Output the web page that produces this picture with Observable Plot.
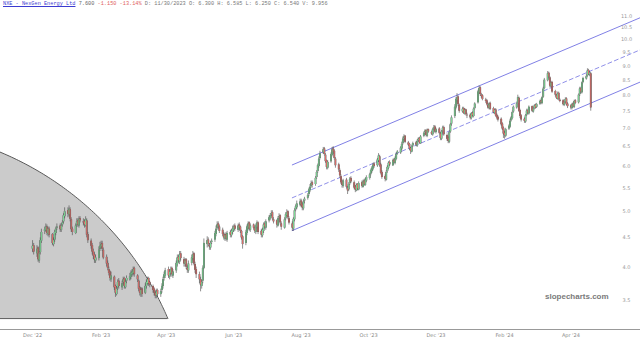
<!DOCTYPE html>
<html><head><meta charset="utf-8">
<script src="https://cdn.jsdelivr.net/npm/d3@7"></script>
<script src="https://cdn.jsdelivr.net/npm/@observablehq/plot@0.6"></script>
<style>
body{margin:0;background:#fff;}
#wrap{position:relative;width:640px;height:343px;overflow:hidden;background:#fff;}
#hdr{position:absolute;left:3px;top:0px;font:5.25px "Liberation Mono",monospace;line-height:9px;white-space:pre;color:#777;}
#hdr .tk{color:#3b3bd0;text-decoration:underline;}
#hdr .px{color:#666;}
#hdr .ch{color:#e06060;}
#wm{position:absolute;left:545px;top:292px;font:bold 8px "Liberation Sans",Arial,sans-serif;color:#7a7a7a;}
</style></head>
<body><div id="wrap"><div id="chart"></div>
<div id="hdr"><span class="tk">NXE - NexGen Energy Ltd</span> <span class="px">7.600</span> <span class="ch">-1.150 -13.14%</span> D: 11/30/2023 O: 6.300 H: 6.585 L: 6.250 C: 6.540 V: 9.956</div>
<div id="wm">slopecharts.com</div></div>
<script>
// Daily candles, one per weekday from 2022-12-01
const opens = [
4.30,4.36,4.22,4.32,4.10,4.24,4.44,4.62,4.64,4.70,4.56,4.66,4.56,4.38,4.46,4.58,4.68,4.72,4.64,4.74,4.80,4.90,
5.02,4.94,5.04,4.84,4.66,4.58,4.74,4.82,4.72,4.86,4.80,4.80,4.72,4.82,4.56,4.44,4.36,4.26,4.20,4.10,4.14,4.30,
4.34,4.40,4.28,4.16,4.06,3.96,3.92,3.80,3.84,3.70,3.58,3.68,3.78,3.68,3.76,3.82,3.68,3.78,3.80,3.84,
3.88,3.90,3.98,3.86,3.78,3.68,3.58,3.66,3.60,3.70,3.74,3.82,3.76,3.70,3.66,3.60,3.56,3.64,3.58,3.64,3.70,3.82,3.86,
3.96,3.84,3.90,3.98,3.86,3.94,4.04,4.16,4.08,4.22,4.12,4.04,4.12,3.98,3.94,4.06,4.14,4.22,4.04,3.96,
3.88,3.80,3.70,3.78,3.98,4.38,4.46,4.36,4.32,4.42,4.46,4.56,4.68,4.76,4.70,4.64,4.56,4.48,4.56,4.46,4.60,4.54,4.60,
4.64,4.72,4.64,4.74,4.70,4.62,4.52,4.40,4.58,4.68,4.78,4.64,4.74,4.68,4.60,4.70,4.78,4.62,4.54,4.62,4.76,4.68,
4.82,4.86,4.94,4.98,4.84,4.82,4.72,4.88,4.92,4.76,4.68,4.86,4.92,5.00,4.86,4.76,4.66,4.84,5.04,5.08,5.14,
5.22,5.14,5.06,5.22,5.28,5.36,5.44,5.54,5.62,5.58,5.74,5.88,6.00,6.20,6.34,6.44,6.28,6.14,5.96,6.12,6.28,6.44,6.38,
6.18,6.04,5.90,5.76,5.64,5.54,5.68,5.50,5.46,5.60,5.72,5.62,5.52,5.44,5.58,5.46,5.62,5.52,5.66,5.56,5.66,
5.72,5.82,5.88,5.94,6.06,6.02,6.14,6.24,6.04,5.86,5.76,5.68,5.88,5.96,6.10,6.02,6.16,6.08,6.18,6.32,6.34,6.44,
6.58,6.72,6.78,6.60,6.56,6.46,6.36,6.52,6.60,6.52,6.66,6.72,6.58,6.78,6.88,6.94,6.78,6.96,6.88,6.82,6.98,7.04,
6.88,6.98,6.84,6.70,6.92,7.02,6.80,6.72,6.62,6.90,7.12,7.34,7.60,7.84,7.94,7.68,7.48,7.58,7.42,7.54,7.38,
7.38,7.28,7.44,7.34,7.58,7.76,8.08,8.24,8.00,7.98,7.84,7.82,7.68,7.58,7.74,7.58,7.44,7.54,7.38,7.32,7.26,7.12,7.00,
6.86,6.78,6.98,7.04,7.22,7.28,7.48,7.60,7.74,7.90,7.52,7.36,7.26,7.18,7.38,7.52,7.42,7.64,7.48,7.58,7.68,
7.62,7.72,7.82,7.74,7.94,8.22,8.48,8.74,8.58,8.28,8.42,8.12,7.98,7.88,8.06,7.84,7.82,7.68,7.78,7.88,7.72,
7.66,7.58,7.72,7.62,7.82,7.76,8.02,8.22,8.08,8.42,8.54,8.64,8.84,8.68,8.72];
const highs = [
4.45,4.40,4.36,4.34,4.26,4.50,4.66,4.70,4.76,4.74,4.70,4.70,4.58,4.50,4.64,4.70,4.76,4.76,4.76,4.82,4.96,5.08,
5.08,5.12,5.08,4.88,4.70,4.76,4.86,4.86,4.90,4.90,4.86,4.84,4.90,4.86,4.60,4.48,4.40,4.30,4.24,4.20,4.34,4.42,
4.44,4.44,4.32,4.20,4.10,4.00,3.94,3.92,3.86,3.72,3.70,3.80,3.82,3.78,3.84,3.84,3.80,3.86,3.90,3.94,
3.96,4.00,4.00,3.88,3.80,3.70,3.68,3.68,3.74,3.80,3.84,3.84,3.78,3.72,3.68,3.64,3.66,3.66,3.66,3.74,3.84,3.92,3.98,
4.00,3.96,4.00,4.00,3.96,4.10,4.20,4.20,4.26,4.26,4.16,4.14,4.14,4.02,4.10,4.20,4.26,4.24,4.08,4.00,
3.92,3.84,3.80,4.02,4.48,4.52,4.50,4.40,4.44,4.48,4.62,4.72,4.80,4.80,4.74,4.68,4.60,4.58,4.60,4.62,4.64,4.66,4.72,
4.74,4.76,4.76,4.78,4.72,4.64,4.54,4.64,4.74,4.80,4.80,4.76,4.76,4.70,4.76,4.82,4.80,4.66,4.68,4.78,4.80,4.84,
4.92,4.96,5.02,5.02,4.88,4.84,4.90,4.96,4.94,4.80,4.88,4.98,5.04,5.02,4.90,4.80,4.88,5.06,5.14,5.22,5.26,
5.26,5.18,5.24,5.30,5.38,5.50,5.58,5.66,5.66,5.76,5.90,6.06,6.24,6.38,6.48,6.48,6.32,6.16,6.14,6.34,6.48,6.50,6.42,
6.22,6.08,5.94,5.80,5.68,5.70,5.72,5.54,5.62,5.74,5.76,5.66,5.56,5.60,5.60,5.64,5.66,5.68,5.70,5.72,5.78,
5.84,5.94,6.00,6.08,6.10,6.20,6.32,6.28,6.08,5.90,5.80,5.90,6.02,6.12,6.14,6.18,6.20,6.24,6.34,6.40,6.50,6.62,
6.76,6.82,6.80,6.64,6.58,6.48,6.54,6.62,6.64,6.68,6.74,6.74,6.80,6.90,6.96,6.96,6.98,6.98,6.92,7.00,7.08,7.08,
7.00,7.02,6.88,6.94,7.06,7.06,6.84,6.76,6.92,7.14,7.36,7.70,7.92,8.05,7.98,7.72,7.62,7.62,7.58,7.56,7.44,
7.42,7.46,7.48,7.60,7.76,8.16,8.30,8.28,8.06,8.02,7.90,7.86,7.72,7.76,7.78,7.62,7.56,7.58,7.42,7.36,7.30,7.16,7.04,
6.92,7.00,7.10,7.26,7.34,7.50,7.66,7.78,8.00,7.94,7.56,7.40,7.30,7.40,7.56,7.56,7.66,7.66,7.60,7.70,7.72,
7.74,7.84,7.88,7.96,8.26,8.56,8.80,8.78,8.62,8.46,8.46,8.16,8.02,8.10,8.10,7.88,7.86,7.80,7.92,7.92,7.76,
7.70,7.74,7.76,7.84,7.86,8.04,8.26,8.26,8.44,8.60,8.68,8.90,8.88,8.80,8.76];
const lows = [
4.24,4.20,4.16,4.08,4.06,4.20,4.40,4.56,4.60,4.54,4.52,4.50,4.36,4.34,4.42,4.54,4.64,4.60,4.60,4.70,4.76,4.86,
4.88,4.90,4.80,4.60,4.54,4.56,4.70,4.70,4.68,4.78,4.72,4.68,4.70,4.50,4.40,4.30,4.20,4.12,4.06,4.06,4.10,4.26,
4.30,4.26,4.12,4.00,3.94,3.86,3.78,3.76,3.64,3.54,3.56,3.64,3.66,3.64,3.72,3.66,3.66,3.74,3.78,3.80,
3.84,3.86,3.84,3.76,3.62,3.56,3.54,3.54,3.58,3.66,3.72,3.70,3.68,3.60,3.56,3.52,3.52,3.54,3.54,3.60,3.66,3.78,3.82,
3.82,3.80,3.86,3.84,3.82,3.90,4.00,4.06,4.04,4.10,4.00,4.00,3.96,3.90,3.90,4.02,4.10,4.02,3.90,3.82,
3.74,3.62,3.66,3.74,3.96,4.32,4.34,4.28,4.28,4.38,4.42,4.52,4.64,4.66,4.58,4.52,4.46,4.44,4.44,4.42,4.50,4.50,4.56,
4.60,4.62,4.60,4.64,4.58,4.46,4.30,4.36,4.54,4.64,4.62,4.60,4.64,4.58,4.56,4.66,4.56,4.50,4.50,4.58,4.66,4.64,
4.78,4.82,4.90,4.82,4.76,4.68,4.70,4.84,4.74,4.64,4.66,4.82,4.90,4.84,4.74,4.62,4.62,4.80,5.00,5.04,5.10,
5.08,5.02,5.02,5.16,5.24,5.32,5.40,5.50,5.50,5.54,5.70,5.84,5.96,6.16,6.30,6.26,6.08,5.92,5.92,6.08,6.24,6.30,6.16,
5.96,5.86,5.72,5.58,5.50,5.50,5.48,5.36,5.42,5.56,5.60,5.46,5.40,5.42,5.44,5.44,5.50,5.50,5.54,5.54,5.62,
5.68,5.78,5.84,5.90,5.96,5.98,6.10,5.98,5.80,5.70,5.64,5.66,5.84,5.92,6.00,6.00,6.06,6.04,6.14,6.28,6.30,6.40,
6.54,6.66,6.58,6.50,6.40,6.30,6.34,6.48,6.50,6.48,6.62,6.56,6.56,6.74,6.84,6.76,6.74,6.86,6.80,6.78,6.94,6.86,
6.84,6.82,6.66,6.66,6.86,6.78,6.64,6.58,6.58,6.86,7.06,7.28,7.54,7.76,7.64,7.44,7.44,7.40,7.38,7.36,7.28,
7.24,7.24,7.32,7.30,7.54,7.72,8.02,7.96,7.90,7.82,7.74,7.66,7.56,7.54,7.52,7.42,7.40,7.32,7.24,7.18,7.06,6.94,6.72,
6.70,6.74,6.94,7.00,7.18,7.24,7.44,7.56,7.70,7.46,7.28,7.18,7.14,7.14,7.34,7.40,7.38,7.46,7.44,7.54,7.56,
7.58,7.68,7.70,7.70,7.90,8.18,8.44,8.54,8.24,8.24,8.06,7.94,7.86,7.84,7.82,7.76,7.66,7.64,7.74,7.66,7.58,
7.54,7.54,7.60,7.58,7.70,7.72,7.96,8.04,8.04,8.38,8.50,8.60,8.66,8.62,7.50];
const closes = [
4.35,4.25,4.30,4.12,4.22,4.45,4.60,4.65,4.70,4.58,4.66,4.55,4.40,4.45,4.60,4.66,4.70,4.65,4.72,4.78,4.92,5.00,
4.95,5.05,4.85,4.65,4.60,4.72,4.80,4.74,4.85,4.82,4.78,4.74,4.84,4.55,4.45,4.35,4.25,4.18,4.12,4.15,4.28,4.35,
4.38,4.30,4.15,4.05,3.98,3.90,3.82,3.86,3.68,3.60,3.66,3.76,3.70,3.74,3.80,3.70,3.76,3.82,3.85,3.90,
3.92,3.96,3.88,3.80,3.66,3.60,3.64,3.58,3.70,3.76,3.80,3.74,3.72,3.64,3.60,3.56,3.62,3.58,3.62,3.70,3.80,3.88,3.94,
3.86,3.92,3.96,3.88,3.92,4.06,4.15,4.10,4.20,4.14,4.05,4.10,4.00,3.95,4.05,4.15,4.20,4.05,3.95,3.88,
3.80,3.72,3.76,3.98,4.40,4.45,4.38,4.34,4.40,4.44,4.58,4.66,4.74,4.70,4.62,4.56,4.50,4.54,4.48,4.58,4.55,4.62,4.66,
4.70,4.66,4.72,4.68,4.62,4.50,4.38,4.60,4.70,4.76,4.66,4.72,4.68,4.62,4.72,4.78,4.60,4.55,4.64,4.74,4.70,4.80,
4.88,4.92,4.96,4.86,4.80,4.74,4.86,4.90,4.78,4.70,4.84,4.94,4.98,4.88,4.78,4.68,4.85,5.02,5.10,5.16,5.20,
5.12,5.08,5.20,5.26,5.34,5.46,5.52,5.60,5.56,5.72,5.86,6.02,6.18,6.32,6.42,6.30,6.12,5.98,6.10,6.30,6.42,6.36,6.20,
6.02,5.92,5.78,5.62,5.56,5.66,5.52,5.44,5.58,5.70,5.64,5.50,5.46,5.56,5.48,5.60,5.54,5.64,5.58,5.68,5.74,
5.80,5.90,5.96,6.04,6.00,6.16,6.26,6.02,5.84,5.74,5.70,5.86,5.98,6.08,6.04,6.14,6.10,6.20,6.30,6.36,6.46,6.56,
6.70,6.76,6.62,6.54,6.44,6.38,6.50,6.58,6.54,6.64,6.70,6.60,6.76,6.86,6.92,6.80,6.94,6.90,6.84,6.96,7.02,6.90,
6.96,6.86,6.72,6.90,7.00,6.82,6.70,6.64,6.88,7.10,7.30,7.62,7.86,7.92,7.70,7.50,7.56,7.44,7.52,7.40,7.36,
7.30,7.42,7.36,7.56,7.72,8.10,8.22,8.02,7.96,7.86,7.80,7.70,7.60,7.72,7.56,7.46,7.52,7.36,7.30,7.24,7.10,6.98,6.84,
6.80,6.96,7.06,7.20,7.30,7.46,7.62,7.72,7.92,7.50,7.34,7.24,7.20,7.36,7.50,7.44,7.62,7.50,7.56,7.66,7.60,
7.70,7.80,7.76,7.92,8.20,8.50,8.72,8.60,8.30,8.40,8.10,8.00,7.90,8.04,7.86,7.80,7.70,7.76,7.86,7.70,7.64,
7.60,7.70,7.64,7.80,7.74,8.00,8.20,8.10,8.40,8.56,8.62,8.82,8.70,8.75,7.60];

// Axis ticks
const xTickDates = ["2022-12-01","2023-02-01","2023-04-01","2023-06-01","2023-08-01","2023-10-01","2023-12-01","2024-02-01","2024-04-01"];
const xTickLabels = ["Dec '22","Feb '23","Apr '23","Jun '23","Aug '23","Oct '23","Dec '23","Feb '24","Apr '24"];
const yTicks = [3.5,4.0,4.5,5.0,5.5,6.0,6.5,7.0,7.5,8.0,8.5,9.0,9.5,10.0,10.5,11.0];

// Regression channel (drawn annotation)
const channelDates = ["2023-07-24","2024-06-03"];
const channelUpper = [6.04, 10.94];
const channelMid = [5.29, 9.61];
const channelLower = [4.635, 8.44];

// Ellipse annotation (centre date / price, radii in days and log-price)
const ellipseCenterDate = "2022-07-16";
const ellipseCenterPrice = 1.983;
const ellipseRadiusDays = 283;
const ellipseRadiusLog = 1.262;
const ellipseFloor = 3.25;

const xDomain = [new Date("2022-11-02"), new Date("2024-06-03")];
const yDomain = [3.11, 11.72];

// build candle table
const dates = [];
let dd = new Date(Date.UTC(2022, 11, 1));
while (dates.length < closes.length) {
  const wd = dd.getUTCDay();
  if (wd !== 0 && wd !== 6) dates.push(new Date(dd));
  dd = new Date(dd.getTime() + 864e5);
}
const n = Math.min(opens.length, highs.length, lows.length, closes.length);
const candles = [];
for (let i = 0; i < n; i++) candles.push({date: dates[i], open: opens[i], high: highs[i], low: lows[i], close: closes[i]});

const chan = channelDates.map((d, i) => ({date: new Date(d), up: channelUpper[i], mid: channelMid[i], lo: channelLower[i]}));

const ec = new Date(ellipseCenterDate);
const t0 = Math.asin(Math.log(ellipseFloor / ellipseCenterPrice) / ellipseRadiusLog);
const arc = [];
for (let k = 0; k <= 140; k++) {
  const t = Math.PI / 2 - (Math.PI / 2 - t0) * k / 140;
  arc.push({date: new Date(+ec + ellipseRadiusDays * Math.cos(t) * 864e5), price: ellipseCenterPrice * Math.exp(ellipseRadiusLog * Math.sin(t))});
}
const arcEnd = arc[arc.length - 1].date;

const labelOf = new Map(xTickDates.map((d, i) => [+new Date(d), xTickLabels[i]]));

const plot = Plot.plot({
  width: 640, height: 343,
  marginTop: 0, marginBottom: 14, marginLeft: 0, marginRight: 0,
  style: {fontFamily: "'DejaVu Sans', sans-serif", background: "#fff", overflow: "hidden"},
  x: {type: "utc", domain: xDomain},
  y: {type: "log", domain: yDomain},
  marks: [
    Plot.areaY(arc, {x: "date", y1: () => ellipseFloor, y2: "price", fill: "#cbcbcb", clip: true}),
    Plot.line(arc, {x: "date", y: "price", stroke: "#5a5a5a", strokeWidth: 1, clip: true}),
    Plot.ruleY([ellipseFloor], {x1: xDomain[0], x2: arcEnd, stroke: "#5a5a5a", strokeWidth: 1}),
    Plot.ruleY([yDomain[0]], {stroke: "#999", strokeWidth: 1}),
    Plot.line(chan, {x: "date", y: "up", stroke: "#7272e2", strokeWidth: 0.9}),
    Plot.line(chan, {x: "date", y: "lo", stroke: "#7272e2", strokeWidth: 0.9}),
    Plot.line(chan, {x: "date", y: "mid", stroke: "#7272e2", strokeWidth: 0.8, strokeDasharray: "4,3"}),
    Plot.ruleX(candles, {x: "date", y1: "low", y2: "high", stroke: "#454545", strokeWidth: 0.6}),
    Plot.ruleX(candles, {x: "date", y1: "open", y2: "close", stroke: "#4a4a4a", strokeWidth: 1.8}),
    Plot.ruleX(candles, {x: "date", y1: "open", y2: "close", stroke: d => d.close >= d.open ? "#7edc98" : "#e0706c", strokeWidth: 1.0}),
    Plot.axisX({ticks: xTickDates.map(d => new Date(d)), tickFormat: d => labelOf.get(+d), tickSize: 0, tickPadding: 4, fontSize: 5, fill: "#888"}),
    Plot.axisY({anchor: "right", ticks: yTicks, tickFormat: d => d.toFixed(1), tickSize: 0, tickPadding: 0, dx: -14, textAnchor: "middle", fontSize: 5, fill: "#999"})
  ]
});
document.getElementById("chart").appendChild(plot);
</script>
</body></html>
